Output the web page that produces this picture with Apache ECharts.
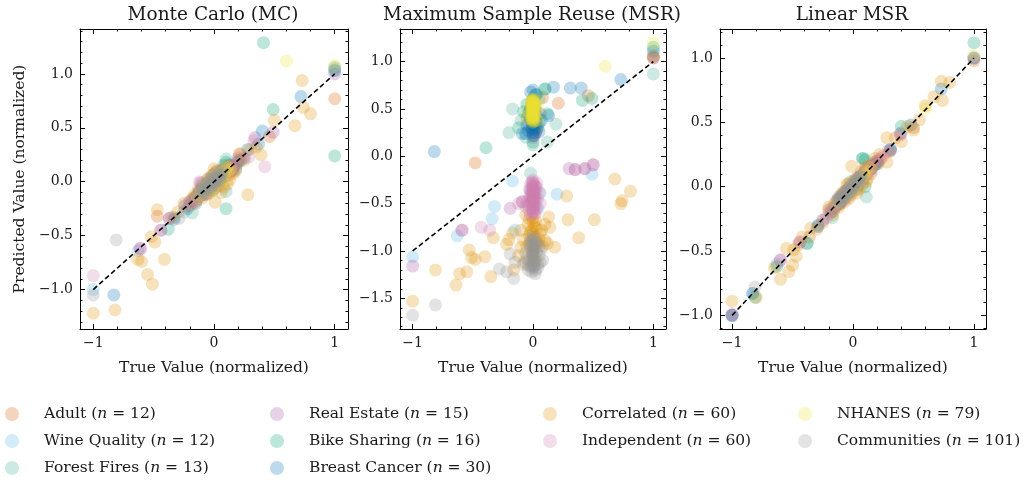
<!DOCTYPE html>
<html><head><meta charset="utf-8">
<script src="https://cdn.jsdelivr.net/npm/echarts@6/dist/echarts.min.js"></script>
<style>html,body{margin:0;padding:0;background:#fff}#c{width:1025px;height:480px}</style>
</head><body><div id="c"></div>
<script>
// ---------- data ----------
const datasetNames = ['Adult','Wine Quality','Forest Fires','Real Estate','Bike Sharing','Breast Cancer','Correlated','Independent','NHANES','Communities'];
const datasetCounts = [12,12,13,15,16,30,60,60,79,101];
const panelTitles = ['Monte Carlo (MC)','Maximum Sample Reuse (MSR)','Linear MSR'];
const xTickValues = [-1,0,1];
const yTickValuesMC = [-1,-0.5,0,0.5,1];
const yTickValuesMSR = [-1.5,-1,-0.5,0,0.5,1];
const yTickValuesLin = [-1,-0.5,0,0.5,1];
const refLine = [[-1,-1],[1,1]];

// Monte Carlo
const mcAdult = [[1,0.77],[0.46,0.42],[0.21,0.26],[-0.47,-0.32],[0.05,0.02],[-0.03,-0.05],[0.10,0.08],[-0.15,-0.18],[0.02,0.10],[0.12,0.12],[-0.05,0.00],[0.00,-0.03]];
const mcWine = [[-1,-1.0],[-0.63,-0.64],[0.18,0.15],[0.12,0.16],[0.05,0.03],[-0.10,-0.08],[0.00,0.00],[0.25,0.22],[-0.20,-0.22],[0.08,0.12],[-0.33,-0.33],[0.15,0.10]];
const mcForest = [[0.10,0.21],[0.10,-0.09],[-0.18,-0.29],[0.03,0.05],[-0.02,-0.03],[0.15,0.14],[-0.10,-0.12],[0.05,0.10],[-0.05,-0.02],[0.20,0.18],[0.00,0.02],[-0.25,-0.28],[0.08,0.06]];
const mcRealEstate = [[1,1.0],[0.49,0.46],[0.34,0.41],[-0.37,-0.34],[-0.44,-0.45],[-0.61,-0.62],[-0.11,-0.01],[0.02,0.00],[-0.03,-0.05],[0.05,0.06],[0.10,0.10],[-0.08,-0.10],[0.15,0.12],[0.00,0.03],[-0.20,-0.18]];
const mcBike = [[0.41,1.29],[1,1.06],[1,0.24],[0.49,0.67],[0.10,-0.25],[-0.38,-0.44],[0.10,0.18],[0.00,0.00],[0.05,0.02],[-0.05,-0.06],[0.12,0.10],[-0.15,-0.20],[0.02,-0.03],[0.08,0.15],[-0.02,0.02],[0.20,0.20]];
const mcBreast = [[1,1.03],[0.72,0.79],[0.40,0.47],[0.37,0.35],[-0.83,-1.05],[-0.33,-0.35],[0.18,0.12],[0.16,0.14],[0.28,0.30],[0.05,0.04],[-0.05,-0.04],[0.00,0.01],[0.02,-0.02],[-0.02,0.03],[0.08,0.07],[-0.08,-0.09],[0.10,0.12],[-0.12,-0.10],[0.03,0.06],[-0.03,-0.06],[0.06,0.02],[-0.06,-0.02],[0.13,0.15],[-0.15,-0.14],[0.22,0.20],[-0.22,-0.25],[0.01,0.08],[-0.01,-0.08],[0.04,0.00],[-0.04,0.00]];
const mcCorrelated = [[0.73,0.94],[0.74,0.69],[0.80,0.63],[0.67,0.52],[0.50,0.57],[0.39,0.25],[0.28,-0.12],[0.01,-0.19],[-0.17,-0.15],[-0.47,-0.26],[-0.52,-0.51],[-0.49,-0.56],[-0.41,-0.72],[-0.63,-0.72],[-0.60,-0.74],[-0.55,-0.86],[-0.51,-0.95],[-1,-1.22],[-0.82,-1.19],[0.00,0.12],[0.02,0.05],[-0.03,-0.08],[0.05,0.00],[0.08,-0.05],[0.10,0.10],[0.12,0.06],[-0.08,-0.10],[0.15,0.15],[-0.05,0.03],[0.03,0.08],[0.06,-0.10],[-0.10,-0.15],[0.20,0.18],[-0.20,-0.22],[0.25,0.20],[-0.30,-0.28],[0.30,0.30],[0.13,0.02],[-0.13,-0.07],[0.04,-0.04],[-0.06,-0.12],[0.09,0.13],[-0.02,0.06],[0.07,0.04],[-0.09,-0.04],[0.11,-0.02],[0.18,0.10],[-0.18,-0.16],[0.01,0.00],[-0.01,-0.02],[0.16,0.08],[-0.16,-0.12],[0.06,0.09],[-0.04,-0.10],[0.22,0.25],[-0.25,-0.20],[0.14,0.10],[-0.14,-0.16],[0.35,0.32],[-0.35,-0.33]];
const mcIndependent = [[0.42,0.14],[0.29,0.23],[0.33,0.38],[-1,-0.87],[-0.61,-0.62],[-0.44,-0.45],[-0.37,-0.34],[-0.12,0.00],[-0.10,-0.02],[0.00,0.00],[0.02,0.03],[-0.02,-0.03],[0.04,0.05],[-0.04,-0.05],[0.06,0.04],[-0.06,-0.07],[0.08,0.09],[-0.08,-0.06],[0.10,0.11],[-0.10,-0.12],[0.12,0.10],[-0.12,-0.14],[0.14,0.15],[-0.14,-0.13],[0.16,0.14],[-0.16,-0.17],[0.01,0.05],[-0.01,-0.05],[0.03,-0.01],[-0.03,0.01],[0.05,0.08],[-0.05,-0.02],[0.07,0.06],[-0.07,-0.09],[0.09,0.07],[-0.09,-0.10],[0.11,0.13],[-0.11,-0.08],[0.13,0.12],[-0.13,-0.10],[0.18,0.17],[-0.18,-0.20],[0.20,0.22],[-0.20,-0.19],[0.00,0.06],[0.00,-0.06],[0.02,-0.04],[-0.02,0.04],[0.06,0.10],[-0.06,-0.11],[0.04,0.01],[-0.04,-0.01],[0.15,0.10],[-0.15,-0.18],[0.08,0.04],[-0.08,-0.12],[0.24,0.22],[-0.24,-0.23],[0.10,0.06],[-0.01,0.02]];
const mcNhanes = [[0.60,1.12],[1,1.08],[0.00,0.00],[0.01,0.02],[-0.01,-0.02],[0.02,0.04],[-0.02,-0.03],[0.03,0.01],[-0.03,-0.01],[0.04,0.06],[-0.04,-0.05],[0.05,0.03],[-0.05,-0.07],[0.06,0.08],[-0.06,-0.04],[0.07,0.05],[-0.07,-0.08],[0.08,0.10],[-0.08,-0.06],[0.09,0.07],[-0.09,-0.11],[0.10,0.12],[-0.10,-0.09],[0.00,0.05],[0.00,-0.05],[0.02,-0.02],[-0.02,0.02],[0.04,0.00],[-0.04,0.00],[0.06,0.02],[-0.06,-0.09],[0.01,0.07],[-0.01,-0.07],[0.03,0.09],[-0.03,-0.09],[0.05,-0.01],[-0.05,0.01],[0.12,0.10],[-0.12,-0.13],[0.08,0.03],[-0.08,-0.03],[0.11,0.14],[-0.11,-0.10],[0.14,0.12],[-0.14,-0.15]];
const mcCommunities = [[-0.81,-0.54],[-1,-1.05],[-0.29,-0.34],[-0.18,-0.17],[-0.24,-0.22],[-0.12,-0.08],[-0.11,-0.10],[-0.10,-0.06],[-0.09,-0.08],[-0.08,-0.04],[-0.07,-0.06],[-0.06,-0.02],[-0.05,-0.05],[-0.04,0.00],[-0.03,-0.02],[-0.02,0.02],[-0.01,0.00],[0.00,0.03],[0.01,0.01],[0.02,0.05],[0.03,0.03],[0.04,0.07],[0.05,0.05],[0.06,0.09],[0.07,0.07],[-0.10,-0.12],[-0.08,-0.10],[-0.06,-0.08],[-0.04,-0.06],[-0.02,-0.04],[0.00,-0.02],[0.02,0.00],[0.04,0.02],[0.06,0.04],[-0.09,-0.03],[-0.05,0.02],[-0.01,0.06],[0.03,0.09],[-0.07,-0.11],[-0.03,-0.07],[0.01,-0.03],[0.05,0.01],[-0.13,-0.14],[0.08,0.11],[1,1.04]];

// Maximum Sample Reuse
const msrAdult = [[1,1.04],[0.46,0.64],[0.21,0.56],[-0.48,-0.07],[0.02,0.30],[0.06,0.45],[0.00,0.55],[-0.05,0.40],[0.08,0.62],[0.01,0.35],[-0.02,0.50],[0.03,0.28]];
const msrWine = [[-1,-1.06],[-0.63,-0.84],[-0.34,-0.66],[-0.32,-0.53],[-0.17,-0.26],[-0.15,-0.78],[0.06,-0.39],[0.20,-0.40],[0.49,-0.19],[0.02,-0.45],[-0.02,-0.35],[0.04,-0.55]];
const msrForest = [[1,0.87],[0.12,0.15],[0.19,0.34],[-0.17,0.50],[-0.20,0.25],[-0.10,0.38],[0.10,0.71],[-0.02,-0.18],[0.00,0.12],[0.02,0.25],[-0.04,0.45],[0.05,0.60],[-0.06,0.20]];
const msrRealEstate = [[1,1.04],[0.00,0.20],[0.02,0.25],[-0.02,0.30],[0.01,0.22],[0.03,0.35],[-0.01,0.28],[0.30,-0.13],[0.35,-0.14],[0.43,-0.13],[0.50,-0.09],[-0.59,-0.78],[-1,-1.16],[-0.19,-0.55],[-0.09,-0.48]];
const msrBike = [[1,1.15],[0.41,0.59],[0.49,0.61],[0.10,0.71],[-0.39,0.09],[0.00,0.60],[0.02,0.50],[-0.03,0.40],[0.05,0.35],[-0.05,0.55],[0.00,0.15],[0.03,0.65],[-0.08,0.47],[0.12,0.45],[0.00,0.30],[-0.12,0.30]];
const msrBreast = [[1,1.11],[0.73,0.81],[0.31,0.72],[0.40,0.72],[0.17,0.73],[0.13,0.43],[-0.09,0.24],[-0.82,0.05],[0.00,0.22],[0.00,0.25],[0.01,0.28],[-0.01,0.30],[0.00,0.33],[0.02,0.36],[-0.02,0.40],[0.00,0.45],[0.01,0.50],[-0.01,0.55],[0.00,0.60],[0.02,0.65],[-0.02,0.68],[0.00,0.70],[0.04,0.30],[-0.04,0.27],[0.03,0.42],[-0.03,0.48],[0.05,0.26],[-0.05,0.33],[0.07,0.38],[-0.06,0.24]];
const msrCorrelated = [[0.68,-0.24],[0.81,-0.37],[0.74,-0.47],[0.73,-0.50],[0.28,-0.42],[0.13,-0.64],[0.14,-0.75],[0.29,-0.67],[0.51,-0.67],[0.38,-0.86],[-0.33,-0.86],[-0.17,-0.81],[-0.53,-0.99],[-0.51,-1.07],[-0.48,-1.09],[-0.40,-1.06],[-0.81,-1.20],[-0.55,-1.22],[-0.61,-1.24],[-0.64,-1.36],[-0.35,-1.27],[-1,-1.53],[-0.10,-0.96],[-0.16,-1.20],[0.06,-0.82],[0.10,-0.89],[-0.06,-0.62],[0.00,-0.65],[0.00,-0.70],[0.01,-0.74],[-0.01,-0.78],[0.00,-0.82],[0.02,-0.86],[-0.02,-0.90],[0.00,-0.94],[0.01,-0.98],[-0.01,-1.02],[0.03,-0.76],[-0.03,-0.84],[0.04,-0.92],[-0.04,-0.72],[0.05,-0.88],[-0.05,-0.95],[0.02,-0.68],[-0.02,-0.80],[0.00,-1.05],[-0.08,-0.88],[0.08,-0.95],[-0.12,-1.05],[0.12,-0.92],[-0.07,-1.12],[0.07,-0.78],[-0.22,-0.93],[0.18,-0.96],[0.02,-1.10],[-0.03,-0.66],[0.10,-0.72],[-0.10,-0.78],[1,1.06],[-0.20,-0.88]];
const msrIndependent = [[-0.43,-0.75],[-0.36,-0.78],[-0.59,-0.78],[0.43,-0.13],[0.50,-0.09],[0.35,-0.14],[0.00,-0.25],[0.00,-0.28],[0.01,-0.30],[-0.01,-0.32],[0.00,-0.34],[0.02,-0.36],[-0.02,-0.38],[0.00,-0.40],[0.01,-0.42],[-0.01,-0.44],[0.00,-0.46],[0.02,-0.48],[-0.02,-0.50],[0.00,-0.52],[0.01,-0.54],[-0.01,-0.56],[0.00,-0.58],[0.02,-0.60],[-0.02,-0.62],[0.00,-0.30],[0.00,-0.35],[0.00,-0.40],[0.00,-0.45],[0.00,-0.50],[0.00,-0.55],[0.01,-0.37],[-0.01,-0.47],[0.01,-0.52],[-0.01,-0.27],[0.03,-0.33],[-0.03,-0.43],[0.03,-0.55],[-0.03,-0.35],[0.04,-0.45],[-0.04,-0.52],[0.02,-0.40],[-0.02,-0.45],[0.01,-0.60],[-0.01,-0.38],[0.00,-0.42],[0.00,-0.48],[0.00,-0.36],[0.05,-0.38],[-0.05,-0.48],[-0.06,-0.53],[0.06,-0.50],[-0.09,-0.48],[-0.12,-0.50],[0.03,-0.28],[-0.03,-0.58],[0.02,-0.32],[-0.02,-0.29],[0.01,-0.46],[0.00,-0.60]];
const msrNhanes = [[1,1.20],[0.60,0.95],[0.00,0.36],[0.00,0.38],[0.01,0.40],[-0.01,0.41],[0.00,0.42],[0.01,0.44],[-0.01,0.45],[0.00,0.46],[0.01,0.47],[-0.01,0.48],[0.00,0.50],[0.01,0.51],[-0.01,0.52],[0.00,0.53],[0.01,0.54],[-0.01,0.55],[0.00,0.56],[0.01,0.57],[-0.01,0.58],[0.00,0.59],[0.00,0.60],[0.01,0.60],[-0.01,0.60],[0.00,0.40],[0.00,0.44],[0.00,0.48],[0.00,0.52],[0.00,0.55],[0.00,0.58],[0.01,0.37],[-0.01,0.39],[0.01,0.43],[-0.01,0.43],[0.01,0.49],[-0.01,0.50],[0.01,0.55],[-0.01,0.57],[0.00,0.47],[-0.04,0.48],[0.04,0.55],[-0.04,0.40],[0.04,0.38]];
const msrCommunities = [[1,1.06],[-1,-1.68],[-0.81,-1.57],[-0.28,-1.19],[-0.22,-1.22],[-0.16,-1.29],[-0.19,-1.03],[-0.15,-1.12],[0.00,-0.85],[0.01,-0.88],[-0.01,-0.90],[0.02,-0.92],[0.00,-0.94],[-0.02,-0.96],[0.01,-0.98],[0.03,-1.00],[0.00,-1.02],[-0.01,-1.04],[0.02,-1.06],[0.00,-1.08],[-0.03,-1.10],[0.01,-1.12],[0.04,-1.14],[-0.02,-1.16],[0.00,-1.18],[0.02,-1.20],[-0.01,-1.22],[0.00,-0.95],[0.00,-1.00],[0.00,-1.05],[0.00,-1.10],[0.00,-1.15],[0.05,-1.05],[-0.05,-1.08],[0.06,-1.12],[-0.04,-1.15],[0.07,-0.98],[-0.06,-1.02],[0.03,-0.90],[-0.03,-0.93],[0.04,-1.18],[-0.04,-1.20],[0.02,-1.24],[0.08,-1.10],[-0.08,-1.14],[0.05,-0.95],[-0.02,-0.87],[0.01,-1.16]];

// Linear MSR
const linAdult = [[1,0.98],[0.23,0.22],[-0.36,-0.39],[0.02,0.03],[-0.05,-0.04],[0.10,0.12],[-0.12,-0.10],[0.05,0.07],[-0.02,0.00],[0.15,0.14],[-0.20,-0.18],[0.50,0.46]];
const linWine = [[-1,-1.0],[-0.83,-0.83],[-0.63,-0.60],[-0.29,-0.31],[0.31,0.29],[0.02,0.00],[-0.05,-0.07],[0.10,0.10],[0.18,0.18],[-0.12,-0.13],[0.05,0.05],[-0.02,-0.03]];
const linForest = [[0.11,-0.08],[-0.17,-0.24],[0.08,0.22],[0.00,0.02],[-0.05,-0.03],[0.05,0.05],[-0.10,-0.10],[0.15,0.16],[0.03,-0.02],[-0.02,0.04],[0.20,0.20],[-0.38,-0.44],[0.40,0.42]];
const linRealEstate = [[1,1.0],[0.39,0.41],[0.31,0.28],[-0.44,-0.43],[-0.60,-0.57],[-1,-1.0],[0.00,0.00],[0.05,0.04],[-0.05,-0.06],[0.10,0.09],[-0.10,-0.11],[0.02,0.03],[-0.02,-0.01],[0.15,0.15],[-0.15,-0.16]];
const linBike = [[1,1.12],[0.40,0.47],[0.08,0.22],[0.10,0.21],[-0.38,-0.44],[-0.63,-0.62],[-0.81,-0.86],[0.10,0.00],[0.00,-0.02],[0.05,0.04],[-0.05,-0.06],[0.15,0.15],[-0.10,-0.12],[0.02,0.03],[0.20,0.19],[-0.18,-0.20]];
const linBreast = [[1,1.0],[0.73,0.76],[0.48,0.48],[0.31,0.29],[-0.83,-0.83],[-1,-1.0],[-0.29,-0.30],[0.18,0.17],[0.00,0.00],[0.02,0.01],[-0.02,-0.02],[0.05,0.06],[-0.05,-0.05],[0.08,0.07],[-0.08,-0.09],[0.10,0.11],[-0.10,-0.10],[0.12,0.12],[-0.12,-0.13],[0.04,0.02],[-0.04,-0.03],[0.06,0.05],[-0.06,-0.07],[0.15,0.14],[-0.15,-0.15],[0.01,0.03],[-0.01,-0.01],[0.03,0.04],[-0.03,-0.04],[0.20,0.18]];
const linCorrelated = [[0.73,0.82],[0.80,0.81],[0.67,0.70],[0.74,0.67],[0.50,0.44],[0.40,0.35],[0.28,0.38],[0.28,0.19],[-0.01,0.16],[-0.42,-0.39],[-0.49,-0.49],[-0.55,-0.48],[-0.47,-0.54],[-0.50,-0.61],[-0.60,-0.72],[-0.53,-0.66],[-0.80,-0.86],[-1,-0.89],[-0.17,-0.22],[0.06,0.08],[0.03,-0.05],[0.07,0.12],[0.05,-0.02],[0.12,0.06],[-0.05,0.02],[-0.08,-0.04],[0.10,0.15],[-0.03,-0.09],[0.15,0.10],[-0.12,-0.16],[0.18,0.22],[-0.20,-0.16],[0.22,0.25],[-0.25,-0.28],[0.02,0.06],[-0.02,-0.06],[0.04,0.00],[-0.04,0.02],[0.08,0.02],[-0.07,-0.12],[0.09,0.10],[-0.10,-0.06],[0.13,0.16],[-0.14,-0.12],[0.01,0.03],[-0.01,-0.03],[0.30,0.27],[-0.30,-0.33],[0.35,0.38],[-0.35,-0.32],[0.45,0.47],[-0.45,-0.45],[0.55,0.52],[0.60,0.63],[-0.65,-0.63],[0.11,0.04],[-0.11,-0.14],[0.16,0.18],[-0.16,-0.19],[0.21,0.18]];
const linIndependent = [[-0.60,-0.57],[-0.44,-0.43],[0.29,0.28],[0.39,0.40],[-1,-0.99],[0.00,0.00],[0.02,0.02],[-0.02,-0.02],[0.04,0.05],[-0.04,-0.05],[0.06,0.06],[-0.06,-0.07],[0.08,0.08],[-0.08,-0.08],[0.10,0.10],[-0.10,-0.11],[0.12,0.12],[-0.12,-0.12],[0.14,0.13],[-0.14,-0.15],[0.01,0.03],[-0.01,-0.03],[0.03,0.01],[-0.03,-0.01],[0.05,0.07],[-0.05,-0.04],[0.07,0.05],[-0.07,-0.09],[0.09,0.11],[-0.09,-0.07],[0.11,0.09],[-0.11,-0.13],[0.13,0.15],[-0.13,-0.11],[0.16,0.16],[-0.16,-0.17],[0.18,0.19],[-0.18,-0.17],[0.20,0.20],[-0.20,-0.21],[0.00,0.04],[0.00,-0.04],[0.02,-0.01],[-0.02,0.01],[0.06,0.03],[-0.06,-0.03],[0.04,0.08],[-0.04,-0.08],[0.08,0.05],[-0.08,-0.11],[0.10,0.13],[-0.10,-0.08],[0.15,0.12],[-0.15,-0.13],[0.22,0.21],[-0.22,-0.24],[0.25,0.24],[-0.25,-0.26],[0.01,0.00],[-0.01,0.00]];
const linNhanes = [[1,1.02],[0.60,0.61],[0.00,0.00],[0.01,0.02],[-0.01,-0.02],[0.02,0.03],[-0.02,-0.01],[0.03,0.04],[-0.03,-0.04],[0.04,0.03],[-0.04,-0.03],[0.05,0.06],[-0.05,-0.06],[0.06,0.05],[-0.06,-0.05],[0.07,0.08],[-0.07,-0.08],[0.08,0.07],[-0.08,-0.07],[0.09,0.10],[-0.09,-0.10],[0.10,0.09],[-0.10,-0.09],[0.00,0.03],[0.00,-0.03],[0.02,0.00],[-0.02,0.00],[0.04,0.06],[-0.04,-0.06],[0.06,0.04],[-0.06,-0.08],[0.12,0.12],[-0.12,-0.12],[0.15,0.15],[-0.15,-0.14],[0.01,-0.01],[-0.01,0.01],[0.03,0.02],[-0.03,-0.02]];
const linCommunities = [[-0.81,-0.78],[-1,-1.0],[-0.29,-0.31],[-0.25,-0.26],[-0.18,-0.19],[-0.13,-0.10],[-0.12,-0.13],[-0.11,-0.09],[-0.10,-0.11],[-0.09,-0.07],[-0.08,-0.09],[-0.07,-0.05],[-0.06,-0.07],[-0.05,-0.03],[-0.04,-0.05],[-0.03,-0.01],[-0.02,-0.03],[-0.01,0.01],[0.00,-0.01],[0.01,0.03],[0.02,0.01],[0.03,0.05],[0.04,0.03],[0.05,0.07],[0.06,0.05],[0.07,0.09],[0.08,0.07],[-0.12,-0.08],[-0.10,-0.08],[-0.08,-0.05],[-0.06,-0.04],[-0.04,-0.02],[-0.02,0.00],[0.00,0.02],[0.02,0.04],[0.04,0.06],[0.06,0.08],[-0.11,-0.12],[-0.07,-0.08],[-0.03,-0.04],[0.01,0.00],[0.05,0.04],[-0.09,-0.10],[-0.05,-0.06],[-0.01,-0.02]];

// ---------- styling / layout ----------
const FONT = 'DejaVu Serif';
const TXT = '#1a1a1a';
const colors = ['rgba(213,94,0,0.33)','rgba(86,180,233,0.33)','rgba(68,170,150,0.33)','rgba(165,80,160,0.33)','rgba(2,158,115,0.33)','rgba(1,115,178,0.33)','rgba(222,143,5,0.33)','rgba(205,125,175,0.33)','rgba(236,225,51,0.33)','rgba(148,148,148,0.33)'];

const panels = [
  {grid:{left:80, top:29, width:268, height:300}, x:[-1.11,1.11], y:[-1.366,1.417], yTicks:yTickValuesMC,
   data:[mcAdult,mcWine,mcForest,mcRealEstate,mcBike,mcBreast,mcCorrelated,mcIndependent,mcNhanes,mcCommunities]},
  {grid:{left:400, top:29, width:266, height:300}, x:[-1.105,1.105], y:[-1.824,1.344], yTicks:yTickValuesMSR,
   data:[msrAdult,msrWine,msrForest,msrRealEstate,msrBike,msrBreast,msrCorrelated,msrIndependent,msrNhanes,msrCommunities]},
  {grid:{left:720, top:29, width:266, height:300}, x:[-1.1,1.1], y:[-1.106,1.226], yTicks:yTickValuesLin,
   data:[linAdult,linWine,linForest,linRealEstate,linBike,linBreast,linCorrelated,linIndependent,linNhanes,linCommunities]}
];

function minorTicks(range, step, majors) {
  const out = [];
  const start = Math.ceil(range[0] / step - 1e-9);
  const end = Math.floor(range[1] / step + 1e-9);
  for (let k = start; k <= end; k++) {
    const v = Math.round(k * step * 100) / 100;
    if (!majors.some(m => Math.abs(m - v) < 1e-9)) out.push(v);
  }
  return out;
}
const fmtX = v => (v < 0 ? '\u2212' : '') + Math.abs(v);
const fmtY = v => (v < 0 ? '\u2212' : '') + Math.abs(v).toFixed(1);

const grids = [], xAxes = [], yAxes = [], series = [];
panels.forEach((p, g) => {
  grids.push(p.grid);
  const xMin = minorTicks(p.x, 0.2, xTickValues);
  const yMin = minorTicks(p.y, 0.1, p.yTicks);
  const mk = (dim, pos, range, ticks, len, main, lineShow, name) => {
    const a = {
      type:'value', gridIndex:g, position:pos, min:range[0], max:range[1],
      axisLine:{show:lineShow, onZero:false, lineStyle:{color:'#000', width:1}},
      axisTick:{show:true, inside:true, length:len, customValues:ticks, lineStyle:{color:'#000', width:1}},
      axisLabel:{show:main, customValues:ticks, fontFamily:FONT, fontSize:14, color:TXT,
                 margin: 7, formatter: dim==='x' ? fmtX : fmtY},
      splitLine:{show:false}, minorTick:{show:false}, minorSplitLine:{show:false},
      axisPointer:{show:false}, silent:true
    };
    if (name) {
      a.name = name; a.nameLocation = 'middle';
      a.nameGap = dim==='x' ? 31 : 52;
      a.nameTextStyle = {fontFamily:FONT, fontSize:15.5, color:TXT};
    }
    return a;
  };
  const xBase = xAxes.length, yBase = yAxes.length;
  xAxes.push(mk('x','bottom',p.x,xTickValues,5,true,true,'True Value (normalized)'));
  xAxes.push(mk('x','top',p.x,xTickValues,5,false,true,null));
  xAxes.push(mk('x','bottom',p.x,xMin,2.5,false,false,null));
  xAxes.push(mk('x','top',p.x,xMin,2.5,false,false,null));
  yAxes.push(mk('y','left',p.y,p.yTicks,5,true,true, g===0 ? 'Predicted Value (normalized)' : null));
  yAxes.push(mk('y','right',p.y,p.yTicks,5,false,true,null));
  yAxes.push(mk('y','left',p.y,yMin,2.5,false,false,null));
  yAxes.push(mk('y','right',p.y,yMin,2.5,false,false,null));
  p.data.forEach((d, i) => {
    series.push({
      type:'scatter', name:datasetNames[i], xAxisIndex:xBase, yAxisIndex:yBase,
      data:d, symbol:'circle', symbolSize:13, itemStyle:{color:colors[i]},
      emphasis:{disabled:true}, silent:true, z:2
    });
  });
  series.push({
    type:'line', name:'y=x', xAxisIndex:xBase, yAxisIndex:yBase, data:refLine,
    symbol:'none', lineStyle:{color:'#000', width:1.6, type:[5,3]}, z:5, silent:true
  });
});

const titles = panelTitles.map((t, g) => ({
  text:t, left: panels[g].grid.left + panels[g].grid.width / 2 - 6, top:1, textAlign:'center',
  textStyle:{fontFamily:FONT, fontSize:18.5, fontWeight:'normal', color:TXT}
}));

const legendCols = [
  {left:5, data:['Adult','Wine Quality','Forest Fires']},
  {left:270, data:['Real Estate','Bike Sharing','Breast Cancer']},
  {left:543, data:['Correlated','Independent']},
  {left:798, data:['NHANES','Communities']}
];
const legends = legendCols.map(c => ({
  left:c.left, top:405, height:100, orient:'vertical', itemWidth:14, itemHeight:14, itemGap:9,
  icon:'circle', selectedMode:false, data:c.data, padding:0,
  formatter: name => name + ' ({i|n} = ' + datasetCounts[datasetNames.indexOf(name)] + ')',
  textStyle:{fontFamily:FONT, fontSize:15.5, lineHeight:18, color:TXT, padding:[0,0,0,20],
             rich:{i:{fontFamily:FONT, fontSize:15.5, lineHeight:18, fontStyle:'italic', color:TXT}}}
}));

const chart = echarts.init(document.getElementById('c'), null, {renderer:'canvas'});
chart.setOption({
  animation:false, backgroundColor:'#fff',
  title:titles, legend:legends, grid:grids, xAxis:xAxes, yAxis:yAxes, series:series
});
</script></body></html>
